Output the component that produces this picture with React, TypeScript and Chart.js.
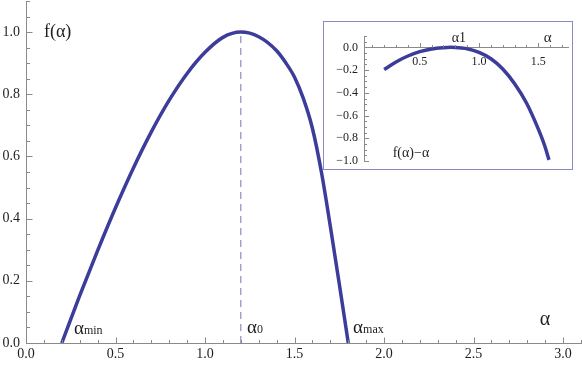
import React, { useEffect, useRef } from "react";
import { Chart, registerables } from "chart.js";

Chart.register(...registerables);

// ---- Main spectrum f(alpha) ----
const alphaMain = [0.2, 0.3, 0.4, 0.5, 0.6, 0.7, 0.8, 0.9, 1.0, 1.1, 1.2, 1.3, 1.4, 1.45, 1.5, 1.55, 1.6, 1.65, 1.7, 1.75, 1.8];
const fMain = [0, 0.152, 0.297, 0.435, 0.563, 0.679, 0.781, 0.867, 0.935, 0.983, 1.0, 0.985, 0.94, 0.902, 0.855, 0.785, 0.69, 0.55, 0.375, 0.19, 0];
const alpha0 = 1.2;
const fAtAlpha0 = 1.0;

// ---- Inset f(alpha) - alpha ----
const alphaInset = [0.2, 0.3, 0.4, 0.5, 0.6, 0.7, 0.76, 0.85, 0.9, 1.0, 1.1, 1.2, 1.3, 1.4, 1.5, 1.55, 1.59];
const gInset = [-0.195, -0.128, -0.076, -0.038, -0.014, -0.003, 0.0, -0.005, -0.012, -0.045, -0.1, -0.19, -0.32, -0.49, -0.72, -0.855, -0.99];

// ---- Tick labels ----
const mainXTicks = [0, 0.5, 1.0, 1.5, 2.0, 2.5, 3.0];
const mainYTicks = [0, 0.2, 0.4, 0.6, 0.8, 1.0];
const insetXTicks = [0.5, 1.0, 1.5];
const insetYTicks = [0, -0.2, -0.4, -0.6, -0.8, -1.0];

const SERIF = "'Liberation Serif', 'Times New Roman', Times, serif";
const CURVE = "#3c3c9a";
const AXIS = "#8a8a8a";
const LABEL = "#1e1e1e";

function range(a: number, b: number, step: number) {
  const out: number[] = [];
  const n = Math.round((b - a) / step);
  for (let i = 0; i <= n; i++) out.push(+(a + i * step).toFixed(4));
  return out;
}

function fmt(v: number) {
  const s = Math.abs(v).toFixed(1);
  return v < -1e-9 ? "\u2212" + s : s;
}

function makeTickPlugin(cfg: { xMajor: number[]; xMinor: number[]; yMajor: number[]; yMinor: number[]; major: number; minor: number }) {
  return {
    id: "tickMarks",
    afterDraw(chart: any) {
      const { ctx } = chart;
      const xs = chart.scales.x;
      const ys = chart.scales.y;
      const axisY = Math.round(ys.getPixelForValue(0)) + 0.5;
      const axisX = Math.round(chart.chartArea.left) + 0.5;
      ctx.save();
      ctx.strokeStyle = AXIS;
      ctx.lineWidth = 1;
      ctx.beginPath();
      const drawX = (v: number, len: number) => {
        const px = Math.round(xs.getPixelForValue(v)) + 0.5;
        ctx.moveTo(px, axisY);
        ctx.lineTo(px, axisY - len);
      };
      const drawY = (v: number, len: number) => {
        const py = Math.round(ys.getPixelForValue(v)) + 0.5;
        ctx.moveTo(axisX, py);
        ctx.lineTo(axisX + len, py);
      };
      cfg.xMinor.forEach((v) => drawX(v, cfg.minor));
      cfg.xMajor.forEach((v) => drawX(v, cfg.major));
      cfg.yMinor.forEach((v) => drawY(v, cfg.minor));
      cfg.yMajor.forEach((v) => drawY(v, cfg.major));
      ctx.stroke();
      ctx.restore();
    },
  };
}

function drawSub(ctx: CanvasRenderingContext2D, main: string, sub: string, x: number, baseline: number, mainSize: number, subSize: number) {
  ctx.font = `${mainSize}px ${SERIF}`;
  ctx.textBaseline = "alphabetic";
  ctx.textAlign = "left";
  ctx.fillText(main, x, baseline);
  const w = ctx.measureText(main).width;
  ctx.font = `${subSize}px ${SERIF}`;
  ctx.fillText(sub, x + w, baseline);
}

const mainTextPlugin = {
  id: "mainText",
  afterDraw(chart: any) {
    const { ctx } = chart;
    const xs = chart.scales.x;
    const ys = chart.scales.y;
    ctx.save();
    ctx.fillStyle = LABEL;
    ctx.font = `18px ${SERIF}`;
    ctx.textBaseline = "middle";
    ctx.textAlign = "left";
    ctx.fillText("f(\u03b1)", xs.getPixelForValue(0.1), ys.getPixelForValue(1.0));
    ctx.font = `20px ${SERIF}`;
    ctx.fillText("\u03b1", xs.getPixelForValue(2.87), ys.getPixelForValue(0.075));
    drawSub(ctx, "\u03b1", "min", xs.getPixelForValue(0.268), ys.getPixelForValue(0.029), 19, 12);
    drawSub(ctx, "\u03b1", "0", xs.getPixelForValue(1.235), ys.getPixelForValue(0.033), 19, 12);
    drawSub(ctx, "\u03b1", "max", xs.getPixelForValue(1.827), ys.getPixelForValue(0.032), 19, 12);
    ctx.restore();
  },
};

const insetTextPlugin = {
  id: "insetText",
  afterDraw(chart: any) {
    const { ctx } = chart;
    const xs = chart.scales.x;
    const ys = chart.scales.y;
    ctx.save();
    ctx.fillStyle = LABEL;
    ctx.textBaseline = "middle";
    ctx.textAlign = "left";
    ctx.font = `14px ${SERIF}`;
    ctx.fillText("\u03b11", xs.getPixelForValue(0.77), ys.getPixelForValue(0.082));
    ctx.font = `15px ${SERIF}`;
    ctx.fillText("\u03b1", xs.getPixelForValue(1.545), ys.getPixelForValue(0.082));
    ctx.font = `14px ${SERIF}`;
    ctx.fillText("f(\u03b1)\u2212\u03b1", xs.getPixelForValue(0.272), ys.getPixelForValue(-0.93));
    ctx.restore();
  },
};

export default function App() {
  const mainRef = useRef<HTMLCanvasElement>(null);
  const insetRef = useRef<HTMLCanvasElement>(null);

  useEffect(() => {
    const mainChart = new Chart(mainRef.current as HTMLCanvasElement, {
      type: "line",
      data: {
        datasets: [
          {
            data: alphaMain.map((a, i) => ({ x: a, y: fMain[i] })),
            borderColor: CURVE,
            borderWidth: 3.5,
            pointRadius: 0,
            cubicInterpolationMode: "monotone",
            fill: false,
          },
          {
            data: [
              { x: alpha0, y: 0 },
              { x: alpha0, y: fAtAlpha0 },
            ],
            borderColor: "#7474b8",
            borderWidth: 1,
            borderDash: [7, 5],
            pointRadius: 0,
            fill: false,
          },
        ],
      },
      options: {
        animation: false,
        responsive: false,
        maintainAspectRatio: false,
        layout: { padding: { top: 1, right: 1, left: 0, bottom: 0 } },
        plugins: { legend: { display: false }, tooltip: { enabled: false }, title: { display: false } },
        scales: {
          x: {
            type: "linear",
            min: 0,
            max: 3.1,
            grid: { display: false, drawTicks: false },
            border: { display: true, color: AXIS, width: 1 },
            afterBuildTicks: (s: any) => {
              s.ticks = mainXTicks.map((v) => ({ value: v }));
            },
            afterFit: (s: any) => {
              s.height = 24;
              s.paddingLeft = 0;
              s.paddingRight = 0;
            },
            ticks: {
              autoSkip: false,
              maxRotation: 0,
              padding: 3,
              color: LABEL,
              font: { family: SERIF, size: 14 },
              callback: (v: any) => fmt(Number(v)),
            },
          },
          y: {
            type: "linear",
            min: 0,
            max: 1.1,
            grid: { display: false, drawTicks: false },
            border: { display: true, color: AXIS, width: 1 },
            afterBuildTicks: (s: any) => {
              s.ticks = mainYTicks.map((v) => ({ value: v }));
            },
            afterFit: (s: any) => {
              s.width = 26;
              s.paddingTop = 0;
              s.paddingBottom = 0;
            },
            ticks: {
              autoSkip: false,
              padding: 6,
              color: LABEL,
              font: { family: SERIF, size: 14 },
              callback: (v: any) => fmt(Number(v)),
            },
          },
        },
      } as any,
      plugins: [
        makeTickPlugin({
          xMajor: mainXTicks,
          xMinor: range(0, 3.1, 0.1),
          yMajor: mainYTicks,
          yMinor: range(0, 1.1, 0.05),
          major: 6,
          minor: 3.5,
        }),
        mainTextPlugin,
      ],
    });

    const insetChart = new Chart(insetRef.current as HTMLCanvasElement, {
      type: "line",
      data: {
        datasets: [
          {
            data: alphaInset.map((a, i) => ({ x: a, y: gInset[i] })),
            borderColor: CURVE,
            borderWidth: 3.5,
            pointRadius: 0,
            cubicInterpolationMode: "monotone",
            fill: false,
          },
        ],
      },
      options: {
        animation: false,
        responsive: false,
        maintainAspectRatio: false,
        layout: { padding: { top: 14, right: 4, left: 0, bottom: 8 } },
        plugins: { legend: { display: false }, tooltip: { enabled: false }, title: { display: false } },
        scales: {
          x: {
            type: "linear",
            position: { y: 0 },
            min: 0.03,
            max: 1.75,
            grid: { display: false, drawTicks: false },
            border: { display: true, color: AXIS, width: 1 },
            afterBuildTicks: (s: any) => {
              s.ticks = insetXTicks.map((v) => ({ value: v }));
            },
            ticks: {
              autoSkip: false,
              maxRotation: 0,
              padding: 7,
              color: LABEL,
              font: { family: SERIF, size: 12 },
              callback: (v: any) => fmt(Number(v)),
            },
          },
          y: {
            type: "linear",
            min: -1.0,
            max: 0.1,
            grid: { display: false, drawTicks: false },
            border: { display: true, color: AXIS, width: 1 },
            afterBuildTicks: (s: any) => {
              s.ticks = insetYTicks.map((v) => ({ value: v }));
            },
            afterFit: (s: any) => {
              s.width = 40;
              s.paddingTop = 0;
              s.paddingBottom = 0;
            },
            ticks: {
              autoSkip: false,
              padding: 6,
              color: LABEL,
              font: { family: SERIF, size: 12 },
              callback: (v: any) => fmt(Number(v)),
            },
          },
        },
      } as any,
      plugins: [
        makeTickPlugin({
          xMajor: insetXTicks,
          xMinor: range(0.1, 1.7, 0.1),
          yMajor: insetYTicks,
          yMinor: range(-1.0, 0.1, 0.05),
          major: 4.5,
          minor: 2.5,
        }),
        insetTextPlugin,
      ],
    });

    return () => {
      mainChart.destroy();
      insetChart.destroy();
    };
  }, []);

  return (
    <div style={{ position: "absolute", left: 0, top: 0, width: 582, height: 367, background: "#fff" }}>
      <canvas ref={mainRef} width={582} height={367} style={{ position: "absolute", left: 0, top: 0, width: 582, height: 367 }} />
      <div
        style={{
          position: "absolute",
          left: 323,
          top: 21,
          width: 250,
          height: 149,
          boxSizing: "border-box",
          border: "1px solid #8a8ac6",
          background: "#fff",
        }}
      >
        <canvas ref={insetRef} width={248} height={147} style={{ position: "absolute", left: 0, top: 0, width: 248, height: 147 }} />
      </div>
    </div>
  );
}
